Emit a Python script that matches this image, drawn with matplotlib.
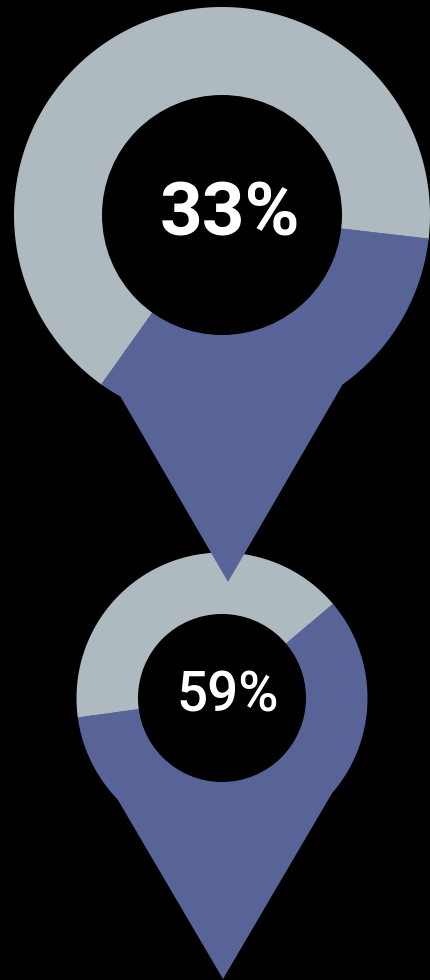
import numpy as np
import matplotlib
matplotlib.use("Agg")
import matplotlib.pyplot as plt
from matplotlib.patches import Wedge, Circle, Polygon

# chart data
labels = ["33%", "59%"]
values = [33, 59]

# pin geometry (pixel space, y up)
centers = [(222, 765), (222, 282)]
outer_r = [208, 145.5]
inner_r = [120, 84]
tips = [(228, 398), (223, 1)]
tip_slope = [0.58, 0.587]
text_pos = [(230, 745), (227.5, 268)]
text_px = [53, 39]
weights = ["bold", "medium"]
mid_angle = -66

gray = "#AFBAC0"
blue = "#586497"


def pin_outline(c, R, tip, k):
    c = np.array(c, float)
    tip = np.array(tip, float)
    hits = []
    for d in (np.array([k, 1.0]), np.array([-k, 1.0])):
        d = d / np.linalg.norm(d)
        f = tip - c
        b = np.dot(f, d)
        t = -b - np.sqrt(b * b - (np.dot(f, f) - R * R))
        p = tip + t * d
        hits.append(np.degrees(np.arctan2(p[1] - c[1], p[0] - c[0])))
    a_right, a_left = hits
    if a_left < a_right:
        a_left += 360
    th = np.radians(np.linspace(a_right, a_left, 300))
    arc = np.column_stack([c[0] + R * np.cos(th), c[1] + R * np.sin(th)])
    return np.vstack([tip, arc])


fig = plt.figure(figsize=(4.31, 9.8), dpi=100, facecolor="black")
ax = fig.add_axes([0, 0, 1, 1])
ax.set_xlim(0, 431)
ax.set_ylim(0, 980)
ax.set_aspect("equal")
ax.axis("off")
ax.set_facecolor("black")

# draw the lower pin first so the upper pin's tip sits on top of it
for i in (1, 0):
    z = (1 - i) * 10 + 1
    cx, cy = centers[i]
    R = outer_r[i]
    outline = Polygon(pin_outline(centers[i], R, tips[i], tip_slope[i]),
                      closed=True, transform=ax.transData)
    reach = np.hypot(tips[i][0] - cx, tips[i][1] - cy) + 20
    span = values[i] * 3.6
    t1, t2 = mid_angle - span / 2, mid_angle + span / 2
    g = Wedge((cx, cy), reach, t2, t1 + 360, facecolor=gray, edgecolor=gray,
              linewidth=0.6, zorder=z)
    b = Wedge((cx, cy), reach, t1, t2, facecolor=blue, edgecolor=blue,
              linewidth=0.6, zorder=z + 1)
    for w in (g, b):
        ax.add_patch(w)
        w.set_clip_path(outline)
    ax.add_patch(Circle((cx, cy), inner_r[i], facecolor="black",
                        edgecolor="none", zorder=z + 2))
    size_pt = text_px[i] / 0.711 * 72 / 100
    ax.text(text_pos[i][0], text_pos[i][1], labels[i], ha="center",
            va="baseline", color="white", fontsize=size_pt,
            fontweight=weights[i], family=["Roboto", "DejaVu Sans"],
            zorder=z + 3)

fig.savefig("out.png", dpi=100, facecolor="black")
